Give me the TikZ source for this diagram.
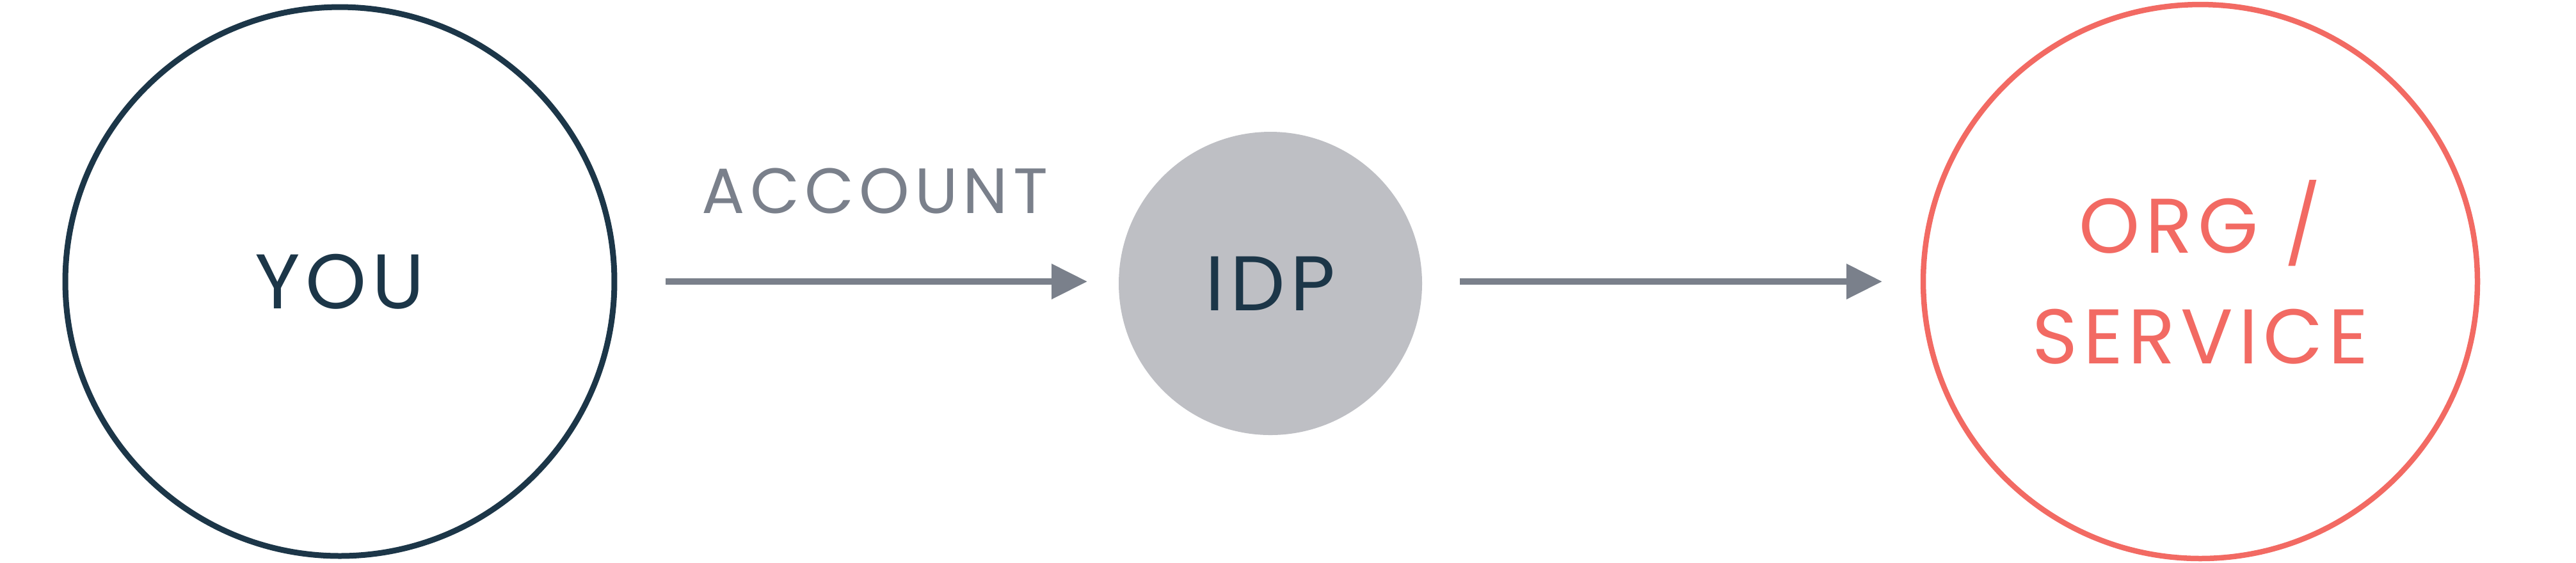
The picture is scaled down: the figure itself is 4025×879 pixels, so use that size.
\documentclass[tikz,border=0pt]{standalone}
\usepackage{fontspec}
\setmainfont{Poppins}
\newfontfamily\spacedbig[LetterSpace=7]{Poppins}
\newfontfamily\spacedsmall[LetterSpace=8]{Poppins}
\usetikzlibrary{arrows.meta}
\definecolor{navy}{HTML}{1C3648}
\definecolor{arrowgray}{HTML}{7A808B}
\definecolor{idpgray}{HTML}{BEBFC4}
\definecolor{coral}{HTML}{F26A63}
\tikzset{
  bigtext/.style={font=\spacedbig\fontsize{12.1}{17.3}\selectfont},
  youcircle/.style={circle, draw=navy, line width=0.9pt, minimum size=85.8pt, inner sep=0pt, outer sep=0pt, text=navy, bigtext},
  idpcircle/.style={circle, fill=idpgray, minimum size=47.4pt, inner sep=0pt, outer sep=0pt, text=navy, bigtext},
  orgcircle/.style={circle, draw=coral, line width=0.85pt, minimum size=86.6pt, inner sep=0pt, outer sep=0pt, text=coral, bigtext, align=center},
  flow/.style={draw=arrowgray, line width=1pt, -{Triangle[length=5.6pt,width=5.3pt]}},
  acclabel/.style={text=arrowgray, font=\spacedsmall\fontsize{10}{12}\selectfont, inner sep=0pt},
}
\begin{document}
\begin{tikzpicture}[x=0.1pt,y=-0.1pt]
\useasboundingbox (0,0) rectangle (4025,879);
\node[youcircle] (you) at (531,440) {YOU};
\node[idpcircle] (idp) at (1985,443) {IDP};
\node[orgcircle] (org) at (3438,440) {ORG \smash{/}\\SERVICE};
\draw[flow, shorten <=8pt, shorten >=4.9pt] (you.east) -- node[acclabel, anchor=base, yshift=10.7pt, xshift=1.3pt] (acc) {ACCOUNT} (you.east -| idp.west);
\draw[flow, shorten <=5.9pt, shorten >=6.4pt] (you.east -| idp.east) -- (you.east -| org.west);
\end{tikzpicture}
\end{document}
